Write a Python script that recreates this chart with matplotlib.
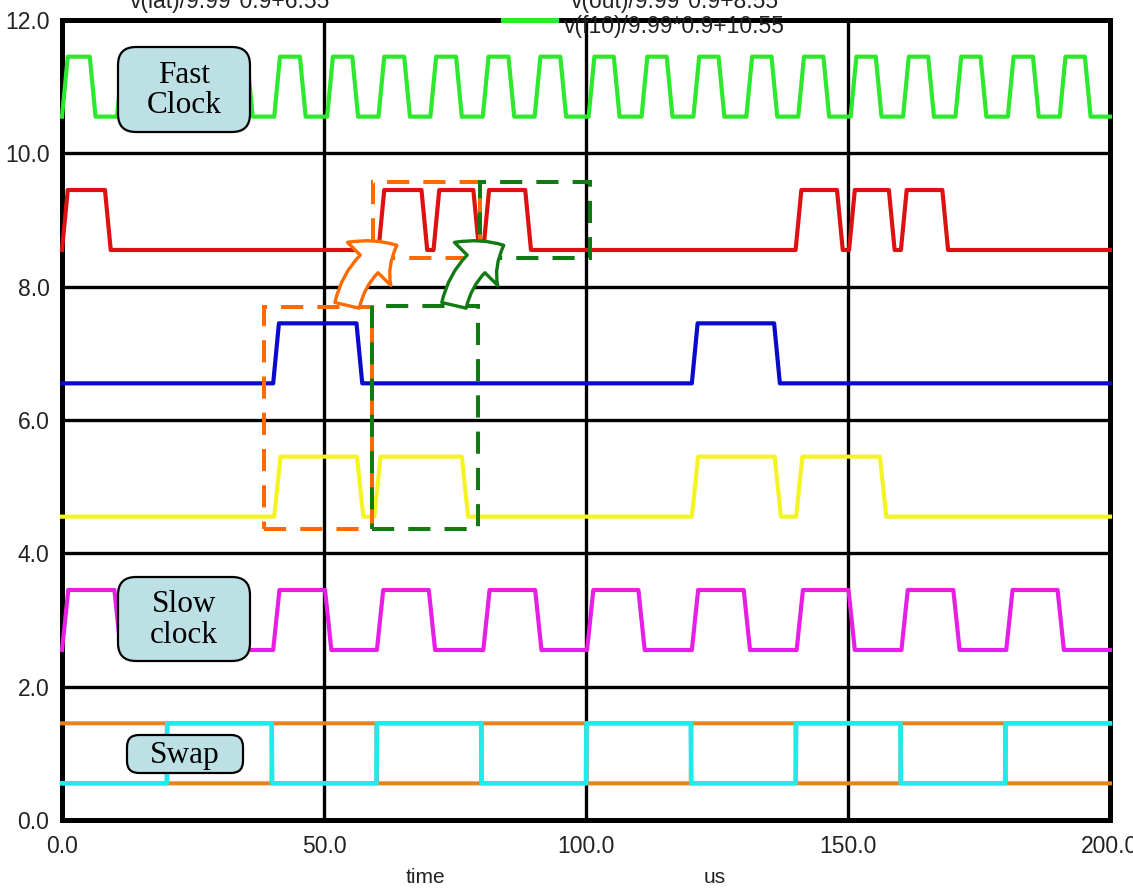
import matplotlib
matplotlib.use('Agg')
import matplotlib.pyplot as plt
from matplotlib.patches import FancyBboxPatch, Rectangle, FancyArrowPatch
from matplotlib.lines import Line2D

W, H, DPI = 1133, 888, 100

# ---------------- data (time in us) ----------------
x_ticks = [0, 50, 100, 150, 200]
x_labels = ["0.0", "50.0", "100.0", "150.0", "200.0"]
y_ticks = [0, 2, 4, 6, 8, 10, 12]
y_labels = ["0.0", "2.0", "4.0", "6.0", "8.0", "10.0", "12.0"]

# fast clock (green), offset 10.55
fast_on = [0.0, 10.5, 20.5, 30.5, 40.5, 50.6, 60.4, 70.3, 80.3, 90.2,
           100.5, 110.6, 120.5, 130.6, 140.5, 150.5, 160.5, 170.5, 180.5, 190.4]
fast_off = [5.3, 15.3, 25.3, 35.3, 45.4, 55.4, 65.3, 75.2, 85.2, 95.1,
            105.3, 115.4, 125.3, 135.4, 145.3, 155.3, 165.3, 175.3, 185.3, 195.2]
# red, offset 8.55
red_on = [0.0, 60.4, 70.9, 80.4, 140.0, 150.2, 160.1]
red_off = [8.2, 68.6, 78.5, 88.4, 147.9, 157.8, 168.0]
# blue, offset 6.55
blue_on = [40.3, 120.2]
blue_off = [56.2, 135.9]
# yellow, offset 4.55
yellow_on = [40.5, 59.6, 120.2, 140.1]
yellow_off = [56.3, 76.3, 136.0, 156.1]
# slow clock (magenta), offset 2.55
slow_on = [0.0, 20.2, 40.3, 60.1, 80.4, 100.2, 120.2, 140.2, 160.2, 180.2]
slow_off = [10.0, 30.1, 50.2, 70.0, 90.3, 110.0, 130.1, 150.1, 170.1, 190.0]
# swap pair, offset 0.55
orange_on = [0.0, 40.0, 80.0, 120.0, 160.0]
orange_off = [20.0, 60.0, 100.0, 140.0, 180.0]
cyan_on = [20.0, 60.0, 100.0, 140.0, 180.0]
cyan_off = [40.0, 80.0, 120.0, 160.0, 200.0]

levels = {"fast": 10.55, "red": 8.55, "blue": 6.55, "yellow": 4.55,
          "slow": 2.55, "swap": 0.55}
amp = 0.9

legend_texts = ["v(lat)/9.99*0.9+6.55", "v(out)/9.99*0.9+8.55",
                "v(f10)/9.99*0.9+10.55"]


def wave(on, off, lo, hi, ramp, start_high=False, t_end=200.0):
    xs, ys = [], []
    for a, b in zip(on, off):
        if a == 0.0 and start_high:
            xs += [0.0]
            ys += [hi]
        else:
            if not xs:
                xs, ys = [0.0], [lo]
            xs += [a, min(a + ramp, t_end)]
            ys += [lo, hi]
        xs += [b]
        ys += [hi]
        if b < t_end:
            xs += [min(b + ramp, t_end)]
            ys += [lo]
    if xs[-1] < t_end:
        xs.append(t_end)
        ys.append(ys[-1])
    return xs, ys


sans = ['Liberation Sans Narrow', 'Liberation Sans', 'DejaVu Sans']
serif = ['Liberation Serif', 'DejaVu Serif']
txt_col = '#222222'

fig = plt.figure(figsize=(W / DPI, H / DPI), dpi=DPI)
L, R, T, B = 62, 1110, 20, 820
ax = fig.add_axes([L / W, 1 - B / H, (R - L) / W, (B - T) / H])
ax.set_xlim(0, 200)
ax.set_ylim(0, 12)
ax.set_xticks(x_ticks)
ax.set_xticklabels(x_labels)
ax.set_yticks(y_ticks)
ax.set_yticklabels(y_labels)
ax.tick_params(length=0, labelsize=16.5)
ax.tick_params(axis='x', pad=11)
ax.tick_params(axis='y', pad=9)
for lab in ax.get_xticklabels() + ax.get_yticklabels():
    lab.set_family(sans)
    lab.set_color(txt_col)
for s in ax.spines.values():
    s.set_linewidth(3.6)
    s.set_color('black')

for xv in [50, 100, 150]:
    ax.axvline(xv, color='black', lw=2.4, zorder=1)
for yv in [2, 4, 6, 8, 10]:
    ax.axhline(yv, color='black', lw=2.4, zorder=1)

sigs = [
    (fast_on, fast_off, levels["fast"], '#2ee82e', 1.1, False, 3.0),
    (red_on, red_off, levels["red"], '#dd1111', 1.1, False, 3.0),
    (blue_on, blue_off, levels["blue"], '#0a0acc', 1.1, False, 3.0),
    (yellow_on, yellow_off, levels["yellow"], '#f4f424', 1.2, False, 3.0),
    (slow_on, slow_off, levels["slow"], '#e61ee6', 1.2, False, 3.0),
    (orange_on, orange_off, levels["swap"], '#e8821e', 0.1, True, 2.9),
    (cyan_on, cyan_off, levels["swap"], '#22eaea', 0.1, False, 3.4),
]
for on, off, lo, col, rp, sh, lw in sigs:
    xs, ys = wave(on, off, lo, lo + amp, rp, start_high=sh)
    ax.plot(xs, ys, color=col, lw=lw, zorder=3, solid_joinstyle='round',
            clip_on=False)

# dashed boxes
dash = (0, (5.5, 3.5))
org = '#ff6a00'
grn = '#127a12'
boxes = [
    (38.6, 4.36, 59.1, 7.70, org),
    (59.1, 4.36, 79.3, 7.71, grn),
    (59.3, 8.43, 79.8, 9.575, org),
    (79.8, 8.43, 100.7, 9.575, grn),
]
for x0, y0, x1, y1, c in boxes:
    ax.add_patch(Rectangle((x0, y0), x1 - x0, y1 - y0, fill=False,
                           edgecolor=c, lw=2.9, linestyle=dash, zorder=4))

# curved hollow arrows
for (xa, ya, xb, yb, c) in [(54.4, 7.72, 63.9, 8.62, org),
                            (74.8, 7.72, 84.3, 8.62, grn)]:
    arr = FancyArrowPatch((xa, ya), (xb, yb),
                          connectionstyle="arc3,rad=-0.25",
                          arrowstyle="simple,head_length=2.4,head_width=4.4,tail_width=1.8",
                          mutation_scale=10, facecolor='white', edgecolor=c,
                          lw=2.4, shrinkA=0, shrinkB=0, zorder=6)
    ax.add_patch(arr)

# label boxes (positions in inches, from pixel measurements)
box_fc = '#bce0e4'
for (px0, py0, px1, py1, rs, txt) in [(118, 47, 250, 132, 0.18, "Fast\nClock"),
                                      (118, 577, 250, 661, 0.18, "Slow\nclock"),
                                      (127, 735, 243, 773, 0.12, "Swap")]:
    p = FancyBboxPatch((px0 / DPI, (H - py1) / DPI), (px1 - px0) / DPI,
                       (py1 - py0) / DPI,
                       boxstyle=f"round,pad=0,rounding_size={rs}",
                       transform=fig.dpi_scale_trans, facecolor=box_fc,
                       edgecolor='black', lw=1.6, zorder=7)
    fig.add_artist(p)
    fig.text((px0 + px1) / 2 / W, 1 - ((py0 + py1) / 2 + 1) / H, txt,
             ha='center', va='center', fontsize=22.5, family=serif,
             linespacing=1.08, zorder=8)

# axis labels
fig.text(425 / W, 1 - 877 / H, "time", ha='center', va='center',
         fontsize=15, family=sans, color=txt_col)
fig.text(715 / W, 1 - 877 / H, "us", ha='center', va='center',
         fontsize=15, family=sans, color=txt_col)

# clipped simulator legend at the top
fig.text(130 / W, 1 - 8 / H, legend_texts[0], ha='left', va='baseline',
         fontsize=16.5, family=sans, color=txt_col)
fig.text(571 / W, 1 - 8 / H, legend_texts[1], ha='left', va='baseline',
         fontsize=16.5, family=sans, color=txt_col)
fig.text(564 / W, 1 - 27 / H, legend_texts[2], ha='left', va='center',
         fontsize=16.5, family=sans, color=txt_col, zorder=10)
fig.add_artist(Line2D([503 / W, 556 / W], [1 - 20 / H, 1 - 20 / H],
                      color='#2ee82e', lw=3.6, zorder=10))

fig.savefig('out.png', dpi=DPI, facecolor='white')
